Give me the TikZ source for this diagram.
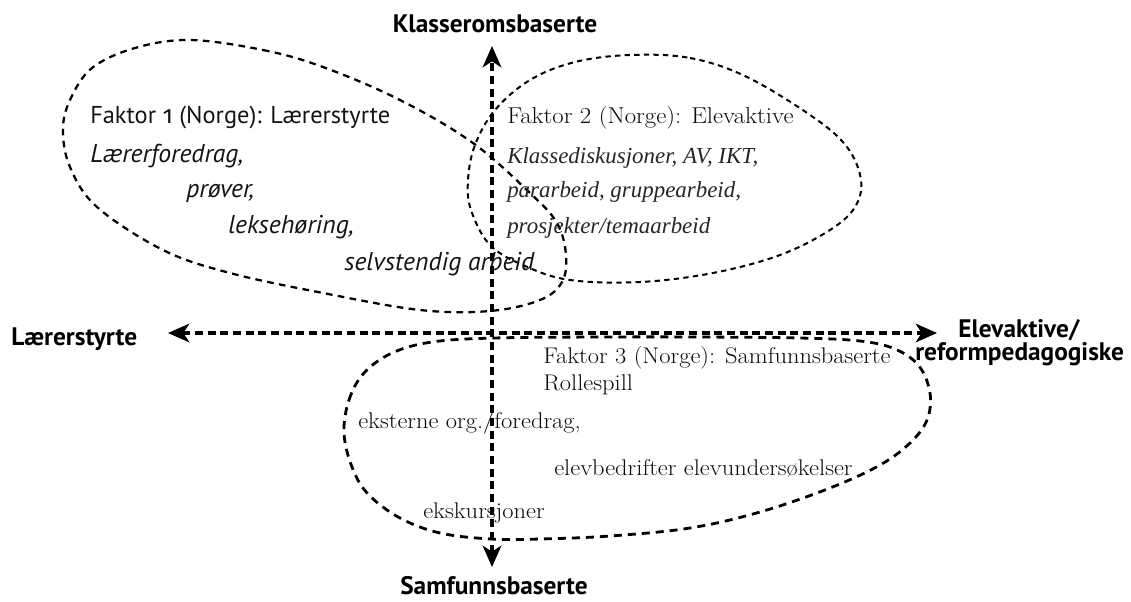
\documentclass[tikz,border=0pt]{standalone}
\usepackage{fontspec}
\usetikzlibrary{arrows.meta}
\newfontfamily\sansf{PT Sans}
\newfontfamily\onumf[Numbers=OldStyle]{Fira Sans}
\newfontfamily\serifw[FakeStretch=1.08]{Latin Modern Roman}
\newfontfamily\timesf{Liberation Serif}
\begin{document}
\begin{tikzpicture}[x=0.75pt,y=-0.75pt,
  axisline/.style={line width=2.3pt,dash pattern=on 6pt off 3.5pt,
    {Stealth[length=16pt,width=14pt,inset=4.5pt]}-{Stealth[length=16pt,width=14pt,inset=4.5pt]}},
  blobA/.style={line width=1.7pt,dash pattern=on 5pt off 4pt},
  blobB/.style={line width=1.5pt,dash pattern=on 4pt off 3.2pt},
  blobC/.style={line width=2.1pt,dash pattern=on 6pt off 4.5pt},
  lab/.style={inner sep=0pt,font=\sansf\bfseries\fontsize{19}{21}\selectfont},
  fa/.style={inner sep=0pt,anchor=base west,text=black!92,font=\sansf\fontsize{18.3}{20}\selectfont},
  fai/.style={fa,font=\sansf\itshape\fontsize{19.3}{21}\selectfont},
  fb/.style={inner sep=0pt,anchor=base west,text=black!96,font=\serifw\fontsize{17.2}{19}\selectfont},
  fbi/.style={fb,text=black!85,font=\timesf\itshape\fontsize{17.2}{19}\selectfont},
  fc/.style={inner sep=0pt,anchor=base west,text=black!96,font=\serifw\fontsize{17}{19}\selectfont}
]
\useasboundingbox (0,0) rectangle (1131,601);

% ellipse 1 (Faktor 1)
\draw[blobA] plot[smooth cycle,tension=0.6] coordinates {
 (190,40) (263,50) (323,67) (400,100) (473,143) (530,193) (557,223) (566,255)
 (562,282) (540,300) (490,311) (420,310) (323,293) (230,273) (163,250) (97,207)
 (70,167) (63,130) (70,100) (92,68) (135,48)};

% ellipse 2 (Faktor 2)
\draw[blobB] plot[smooth cycle,tension=0.6] coordinates {
 (630,55) (690,58) (747,77) (813,117) (847,147) (861,180) (855,207) (830,230)
 (780,255) (713,273) (640,282) (570,280) (525,266) (490,245) (471,210) (468,180)
 (475,145) (495,110) (530,80) (575,62)};

% ellipse 3 (Faktor 3)
\draw[blobC] plot[smooth cycle,tension=0.6] coordinates {
 (344,433) (349,400) (364,373) (392,353) (432,342) (494,338) (600,337) (700,337)
 (800,338) (860,341) (895,349) (919,366) (930,393) (927,420) (910,443) (880,465)
 (830,488) (760,512) (690,528) (610,536) (540,539) (491,539) (440,533) (400,518)
 (368,494) (352,467)};

% axes
\coordinate (L) at (168,333);
\coordinate (R) at (937,333);
\coordinate (T) at (492,46);
\coordinate (B) at (492,567);
\draw[axisline] (L) -- (R);
\draw[axisline] (B) -- (T);

% axis labels
\node[lab,anchor=base] (top) at (495,32) {Klasseromsbaserte};
\node[lab,anchor=base] (bot) at (494,594) {Samfunnsbaserte};
\node[lab,anchor=base west] (left) at (11,345) {Lærerstyrte};
\node[lab,anchor=base west] (right1) at (958,337) {Elevaktive/};
\node[lab,anchor=base west] (right2) at (915,360) {reformpedagogiske};

% Faktor 1
\node[fa] (f1h) at (90,123) {Faktor {\onumf 1} (Norge): Lærerstyrte};
\node[fai] (f1a) at (90,162) {Lærerforedrag,};
\node[fai] (f1b) at (186,197) {prøver,};
\node[fai] (f1c) at (228,233) {leksehøring,};
\node[fai] (f1d) at (344,270) {selvstendig arbeid};

% Faktor 2
\node[fb] (f2h) at (507,123) {Faktor 2 (Norge): Elevaktive};
\node[fbi] (f2a) at (507,163) {Klassediskusjoner, AV, IKT,};
\node[fbi] (f2b) at (507,197) {pararbeid, gruppearbeid,};
\node[fbi] (f2c) at (507,233) {prosjekter/temaarbeid};

% Faktor 3
\node[fc] (f3h) at (543,363) {Faktor 3 (Norge): Samfunnsbaserte};
\node[fc] (f3a) at (543,390) {Rollespill};
\node[fc] (f3b) at (358,428) {eksterne org./foredrag,};
\node[fc] (f3c) at (554,475) {elevbedrifter elevundersøkelser};
\node[fc] (f3d) at (423,518) {ekskursjoner};
\end{tikzpicture}
\end{document}
